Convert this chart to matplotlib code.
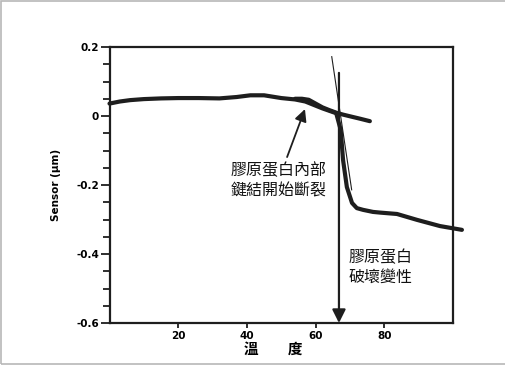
import matplotlib
matplotlib.use("Agg")
import matplotlib.pyplot as plt
from matplotlib.patches import Rectangle
from matplotlib.ticker import MultipleLocator

plt.rcParams['font.family'] = ['DejaVu Sans', 'Noto Sans CJK TC']

# ---- data ----
temp_main = [0, 3, 6, 10, 15, 20, 26, 32, 37, 41, 45, 50, 54, 57, 60, 62, 64, 66,
             67.3, 68, 69.1, 70.6, 72, 73.8, 76.7, 78.8, 83.7, 89.5, 96.2, 102.6]
sensor_main = [0.036, 0.042, 0.046, 0.049, 0.051, 0.052, 0.052, 0.051, 0.055, 0.060,
               0.060, 0.052, 0.048, 0.042, 0.030, 0.022, 0.015, 0.008,
               -0.04, -0.128, -0.206, -0.252, -0.267, -0.272, -0.278, -0.280,
               -0.284, -0.301, -0.319, -0.330]

temp_branch = [54, 56, 58, 60, 62, 64, 66.2, 68, 70.9, 73, 75.8]
sensor_branch = [0.050, 0.050, 0.047, 0.036, 0.025, 0.017, 0.009, 0.004, -0.003, -0.008, -0.015]

tangent_x = [64.7, 70.5]
tangent_y = [0.172, -0.214]

onset_temp = 66.8
onset_top = 0.125

label_bond = "膠原蛋白內部\n鍵結開始斷裂"
label_denat = "膠原蛋白\n破壞變性"
x_label = "溫　　度"
y_label = "Sensor (μm)"

x_ticks = [20, 40, 60, 80]
y_ticks = [-0.6, -0.4, -0.2, 0, 0.2]
y_ticklabels = ["-0.6", "-0.4", "-0.2", "0", "0.2"]

# ---- figure ----
fig = plt.figure(figsize=(5.05, 3.69), dpi=100)
ax = fig.add_axes([109.5/505, 1-323/369, (453-109.5)/505, (323-47)/369])

ink = '#1e1e1e'
ax.plot(temp_main, sensor_main, color=ink, lw=3.0, solid_capstyle='round',
        solid_joinstyle='round', clip_on=False, zorder=3)
ax.plot(temp_branch, sensor_branch, color=ink, lw=3.0, solid_capstyle='round',
        clip_on=False, zorder=3)
ax.plot(tangent_x, tangent_y, color=ink, lw=0.8, clip_on=False, zorder=3)

ax.annotate('', xy=(onset_temp, -0.6), xytext=(onset_temp, onset_top),
            arrowprops=dict(arrowstyle='-|>,head_length=0.8,head_width=0.4',
                            color=ink, lw=1.6, mutation_scale=10,
                            shrinkA=0, shrinkB=0), zorder=4)
ax.annotate('', xy=(56.9, 0.02), xytext=(51.7, -0.119),
            arrowprops=dict(arrowstyle='-|>,head_length=0.8,head_width=0.4',
                            color=ink, lw=1.3, mutation_scale=9,
                            shrinkA=0, shrinkB=0), zorder=4)

cjk = ['Noto Sans CJK TC', 'DejaVu Sans']
ax.text(49.3, -0.188, label_bond, ha='center', va='center', fontsize=11.5,
        family=cjk, linespacing=1.2, color='#111', fontweight='medium')
ax.text(78.8, -0.438, label_denat, ha='center', va='center', fontsize=11.5,
        family=cjk, linespacing=1.2, color='#111', fontweight='medium')

ax.set_xlim(0, 100)
ax.set_ylim(-0.6, 0.2)
ax.set_xticks(x_ticks)
ax.set_xticklabels([str(t) for t in x_ticks], fontsize=7.5, fontweight='bold')
ax.set_yticks(y_ticks)
ax.set_yticklabels(y_ticklabels, fontsize=7.5, fontweight='bold')
ax.yaxis.set_minor_locator(MultipleLocator(0.05))
ax.tick_params(axis='y', which='major', length=6.5, width=1.3, pad=1, color=ink)
ax.tick_params(axis='y', which='minor', length=5, width=1.3, color=ink)
ax.tick_params(axis='x', which='major', length=3.5, width=1.3, pad=2.5, color=ink)
for s in ax.spines.values():
    s.set_linewidth(1.6)
    s.set_color(ink)

ax.set_ylabel(y_label, fontsize=7.5, fontweight='bold')
ax.yaxis.set_label_coords(-0.14, 0.5)
ax.set_xlabel(x_label, fontsize=10.5, fontweight='bold', family=cjk)
ax.xaxis.set_label_coords(0.478, -0.095)
ax.xaxis.label.set_va('center')

fig.patches.append(Rectangle((0.002, 0.0135), 1.2, 0.985, transform=fig.transFigure,
                             fill=False, edgecolor='#b8b8b8', lw=1.2))

fig.savefig('out.png', dpi=100)
